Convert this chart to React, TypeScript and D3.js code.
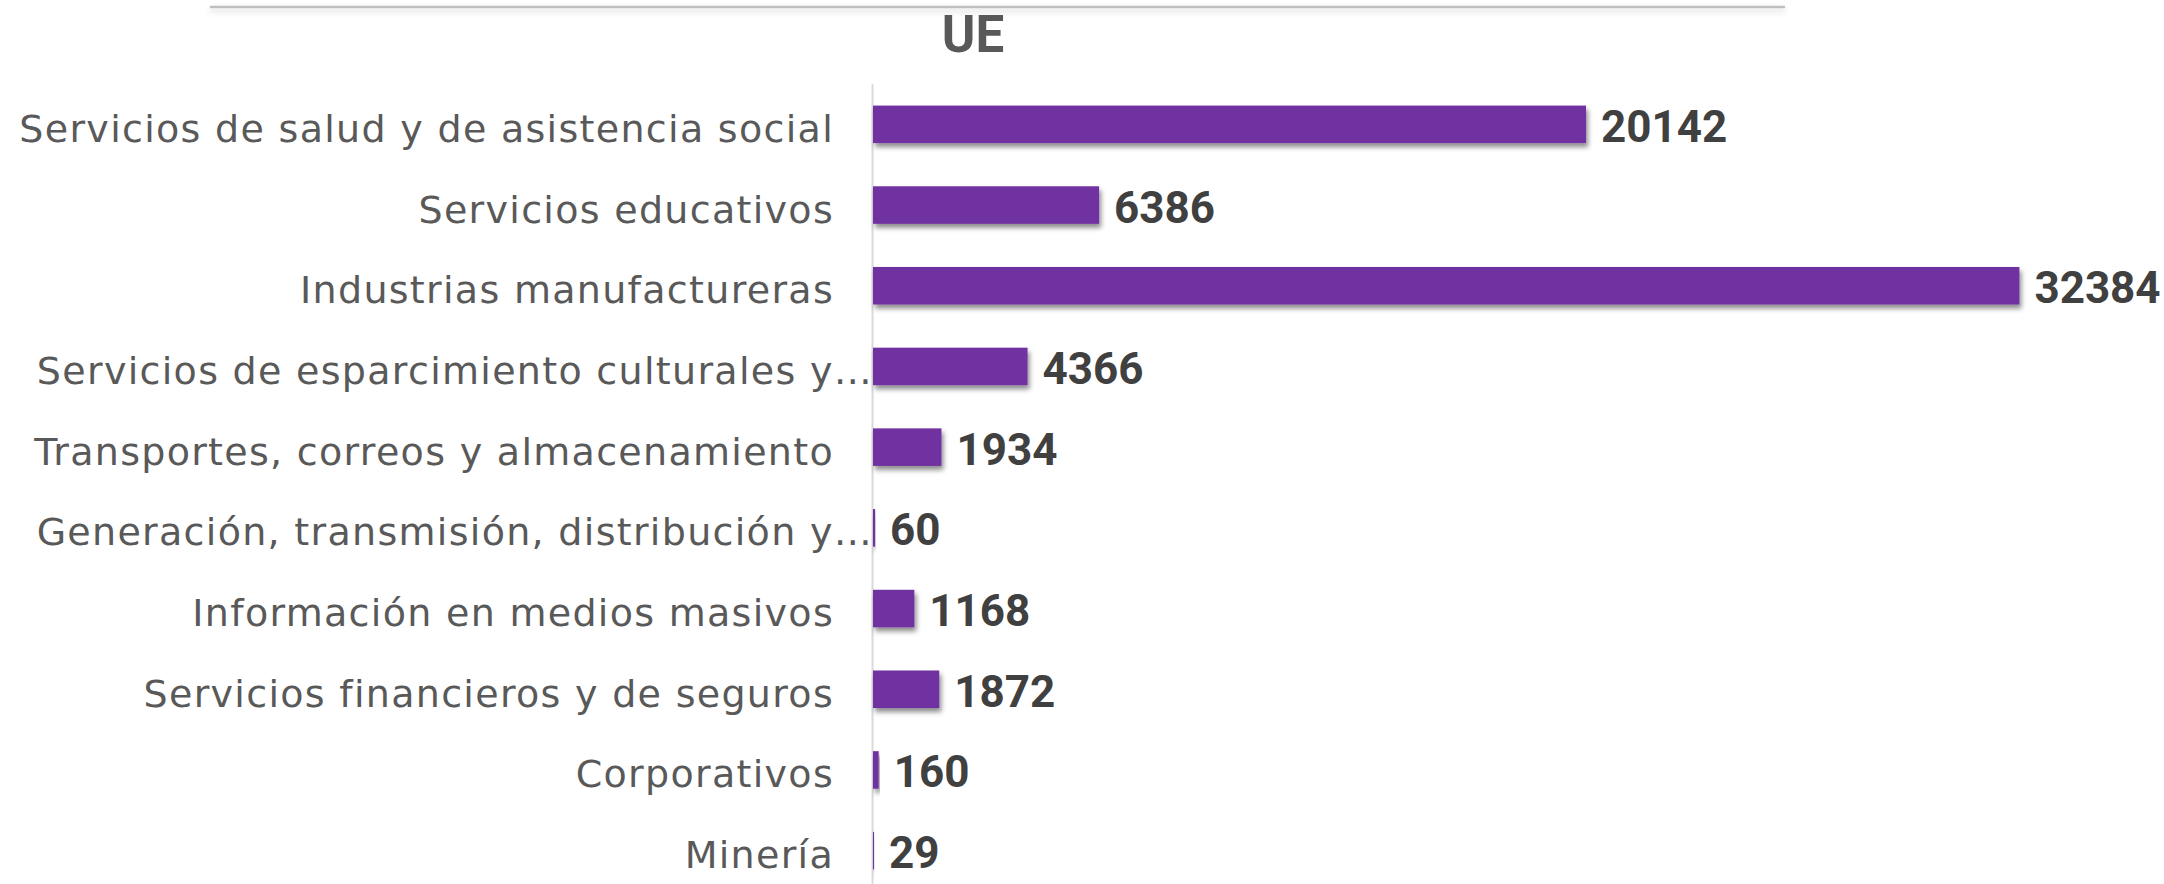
import React from "react";
import * as d3 from "d3";

const categories = [
  "Servicios de salud y de asistencia social",
  "Servicios educativos",
  "Industrias manufactureras",
  "Servicios de esparcimiento culturales y…",
  "Transportes, correos y almacenamiento",
  "Generación, transmisión, distribución y…",
  "Información en medios masivos",
  "Servicios financieros y de seguros",
  "Corporativos",
  "Minería",
];
const values = [20142, 6386, 32384, 4366, 1934, 60, 1168, 1872, 160, 29];
const title = "UE";

const W = 2164;
const H = 884;

export default function App() {
  const x = d3.scaleLinear().domain([0, 35000]).range([873, 2112]);
  const y = d3
    .scaleBand<string>()
    .domain(categories)
    .range([84, 891])
    .paddingInner(0.535)
    .paddingOuter(0.2675);
  const bw = y.bandwidth();

  return (
    <svg
      width={W}
      height={H}
      style={{ position: "absolute", left: 0, top: 0, background: "#fff" }}
    >
      <defs>
        <filter id="barShadow" x="-10%" y="-30%" width="130%" height="180%">
          <feDropShadow dx="2" dy="4" stdDeviation="2.5" floodColor="#000" floodOpacity="0.45" />
        </filter>
        <filter id="lineShadow" filterUnits="userSpaceOnUse" x={190} y={0} width={1620} height={30}>
          <feDropShadow dx="0" dy="3" stdDeviation="3" floodColor="#000" floodOpacity="0.18" />
        </filter>
      </defs>
      <line x1={210} x2={1785} y1={7} y2={7} stroke="#bfbfbf" strokeWidth={2.5} filter="url(#lineShadow)" />
      <text
        x={973}
        y={52}
        textAnchor="middle"
        fontFamily="Roboto, 'Open Sans', sans-serif"
        fontWeight="bold"
        fontSize={51}
        fill="#595959"
      >
        {title}
      </text>
      <line x1={872.5} x2={872.5} y1={84} y2={H} stroke="#d9d9d9" strokeWidth={2} />
      {categories.map((c, i) => {
        const yc = (y(c) as number) + bw / 2;
        const v = values[i];
        const truncated = c.endsWith("…");
        return (
          <g key={c}>
            <rect
              x={x(0)}
              y={y(c) as number}
              width={Math.max(x(v) - x(0), 0.5)}
              height={bw}
              fill="#7030a0"
              filter="url(#barShadow)"
            />
            <text
              x={truncated ? 873 : 834}
              y={yc + 17.5}
              textAnchor="end"
              fontFamily="'DejaVu Sans', sans-serif"
              fontSize={38}
              letterSpacing={1.3}
              fill="#595959"
            >
              {c}
            </text>
            <text
              x={x(v) + 15}
              y={yc + 17.5}
              fontFamily="Roboto, sans-serif"
              fontWeight="bold"
              fontSize={44}
              fill="#404040"
            >
              {v}
            </text>
          </g>
        );
      })}
    </svg>
  );
}
